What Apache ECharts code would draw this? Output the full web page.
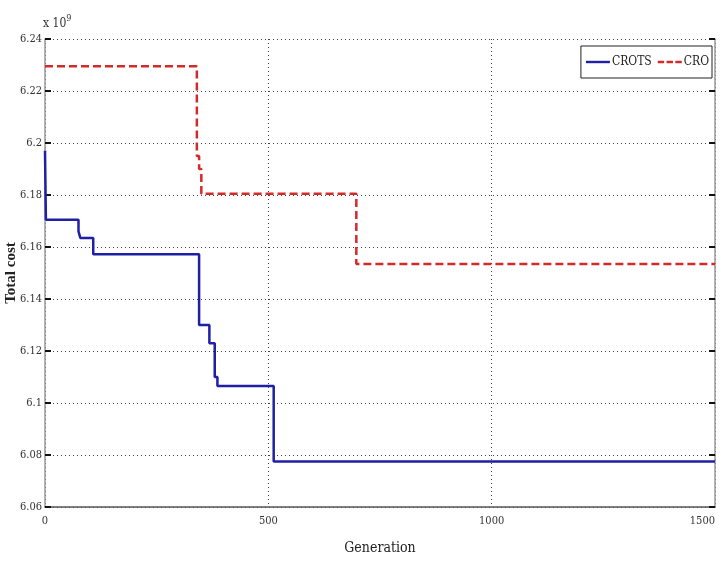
<!DOCTYPE html>
<html>
<head>
<meta charset="utf-8">
<script src="https://cdn.jsdelivr.net/npm/echarts@6/dist/echarts.min.js"></script>
<style>
  html, body { margin: 0; padding: 0; background: #fff; }
  #chart { width: 726px; height: 566px; }
</style>
</head>
<body>
<div id="chart"></div>
<script>
// values in units of 1e9, each point = generation where the level starts
var crotsGen = [0, 2, 75, 79, 108, 345, 352, 368, 380, 386, 512, 1500]
var crotsCost = [6.197, 6.1705, 6.166, 6.1635, 6.1572, 6.13, 6.13, 6.123, 6.11, 6.1065, 6.0775, 6.0775]
var croGen = [0, 340, 345, 350, 697, 1500]
var croCost = [6.2295, 6.195, 6.19, 6.1805, 6.1535, 6.1535]
var xTicks = [0, 500, 1000, 1500]

function pairs (xs, ys) {
  return xs.map(function (x, i) { return [x, ys[i]] })
}

var chart = echarts.init(document.getElementById('chart'))
var labelFont = '"DejaVu Serif Condensed", "Liberation Sans Narrow", "DejaVu Sans Condensed", "Liberation Serif"'

chart.setOption({
  animation: false,
  backgroundColor: '#fff',
  grid: { left: 45, right: 11, top: 39, bottom: 59, outerBoundsMode: 'none', containLabel: false },
  legend: {
    right: 14,
    top: 46,
    data: [
      { name: 'CROTS', icon: 'path://M0,0h30v3h-30z' },
      { name: 'CRO', icon: 'path://M0,0h8v3h-8z M11,0h8v3h-8z M22,0h8v3h-8z' }
    ],
    backgroundColor: '#fff',
    borderColor: '#222',
    borderWidth: 1,
    borderRadius: 0,
    padding: [10, 3, 10, 5],
    itemWidth: 24,
    itemHeight: 3,
    itemGap: 6,
    textStyle: { fontFamily: labelFont, fontSize: 12, color: '#222', padding: [0, 0, 0, -3] }
  },
  graphic: [{
    type: 'text',
    left: 43,
    top: 14,
    style: {
      text: 'x 10{s|9}',
      fontFamily: labelFont,
      fontSize: 12,
      fill: '#333',
      rich: { s: { fontSize: 9, verticalAlign: 'top', padding: [0, 0, 10, 0], fontFamily: labelFont } }
    }
  }],
  xAxis: {
    type: 'value',
    min: 0,
    max: 1500,
    interval: 500,
    name: 'Generation',
    nameLocation: 'middle',
    nameGap: 34,
    nameMoveOverlap: false,
    nameTextStyle: { fontFamily: labelFont, fontSize: 14, color: '#222' },
    axisLine: { lineStyle: { color: '#555', width: 1.5 } },
    axisTick: { show: false },
    axisLabel: {
      fontFamily: labelFont, fontSize: 11, color: '#333', margin: 9,
      alignMaxLabel: 'right',
      formatter: function (v) { return xTicks.indexOf(v) >= 0 ? String(v) : '' }
    },
    splitLine: { show: true, lineStyle: { type: [1, 3], color: '#444', width: 1 } }
  },
  yAxis: [{
    type: 'value',
    min: 6.06,
    max: 6.24,
    interval: 0.02,
    name: 'Total cost',
    nameLocation: 'middle',
    nameGap: 26,
    nameMoveOverlap: false,
    nameTextStyle: { fontFamily: 'Liberation Serif', fontSize: 15, fontWeight: 'bold', color: '#222' },
    axisLine: { show: true, lineStyle: { color: '#999', width: 1.5 } },
    axisTick: { show: true, inside: true, length: 6, lineStyle: { color: '#111', width: 2 } },
    axisLabel: {
      fontFamily: labelFont, fontSize: 11, color: '#333', margin: 3,
      formatter: function (v) { return String(parseFloat(v.toFixed(2))) }
    },
    splitLine: { show: true, lineStyle: { type: [1, 3], color: '#444', width: 1 } }
  }, {
    type: 'value',
    min: 6.06,
    max: 6.24,
    interval: 0.02,
    position: 'right',
    axisLine: { show: true, lineStyle: { color: '#999', width: 1.5 } },
    axisTick: { show: true, inside: true, length: 6, lineStyle: { color: '#111', width: 2 } },
    axisLabel: { show: false },
    splitLine: { show: false }
  }],
  series: [
    {
      name: 'CROTS',
      type: 'line',
      step: 'end',
      symbol: 'none',
      color: '#1f1fa8',
      lineStyle: { color: '#1f1fa8', width: 2.5 },
      data: pairs(crotsGen, crotsCost)
    },
    {
      name: 'CRO',
      type: 'line',
      step: 'end',
      symbol: 'none',
      color: '#d42a2a',
      lineStyle: { color: '#d42a2a', width: 2.5, type: [8, 4] },
      data: pairs(croGen, croCost)
    }
  ]
})
</script>
</body>
</html>
